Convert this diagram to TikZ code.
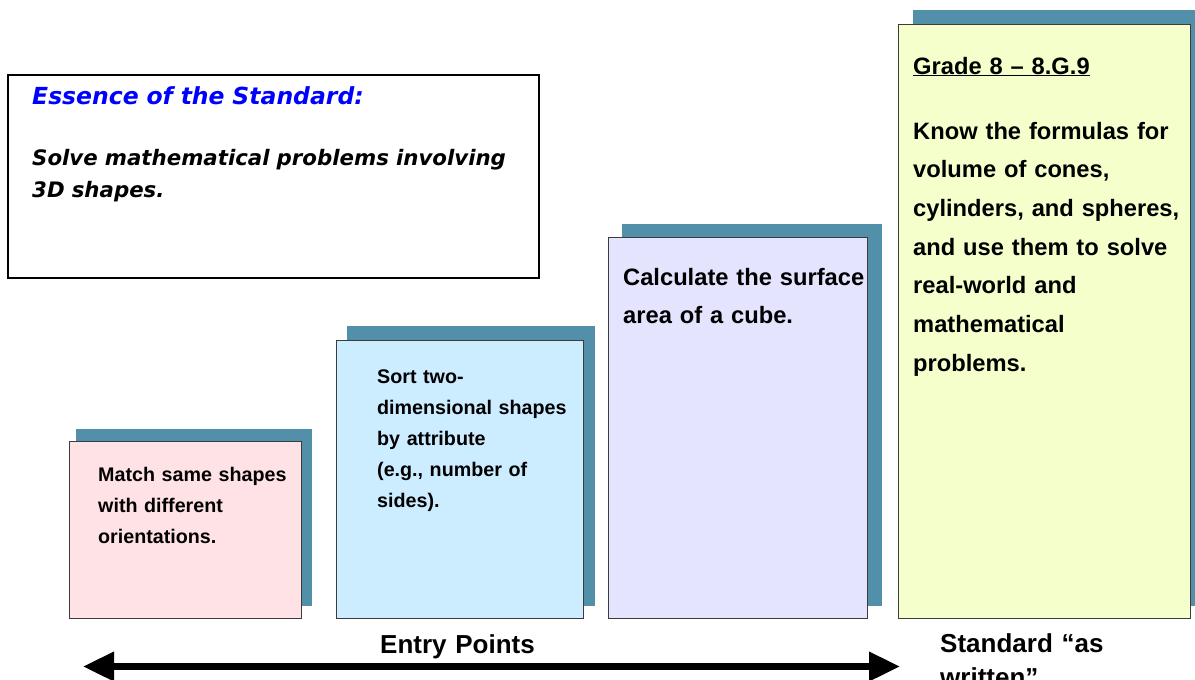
\documentclass[tikz,border=0pt]{standalone}
\usepackage{fontspec}
\setmainfont{Liberation Sans}
\newfontfamily\essfont{DejaVu Sans}
\usetikzlibrary{arrows.meta}
\definecolor{shadowc}{RGB}{82,143,168}
\definecolor{pinkc}{RGB}{255,226,230}
\definecolor{bluec}{RGB}{204,236,255}
\definecolor{lavc}{RGB}{228,228,255}
\definecolor{yelc}{RGB}{245,255,204}
\definecolor{edgec}{RGB}{60,60,60}
\definecolor{essblue}{RGB}{0,0,255}
\begin{document}
\begin{tikzpicture}[x=1pt,y=-1pt,
  shadowbox/.style={fill=shadowc, draw=none},
  frontbox/.style={draw=edgec, line width=1pt},
  smalltext/.style={anchor=base west, inner sep=0pt, align=left, text width=#1,
    font=\bfseries\fontsize{19.7}{31}\selectfont},
  bigtext/.style={anchor=base west, inner sep=0pt, align=left, text width=#1,
    font=\bfseries\fontsize{23.7}{38.7}\selectfont},
  esshead/.style={anchor=base west, inner sep=0pt, align=left, text width=520pt,
    font=\essfont\bfseries\itshape\fontsize{23.5}{32}\selectfont},
  essbody/.style={anchor=base west, inner sep=0pt, align=left, text width=520pt,
    font=\essfont\bfseries\itshape\fontsize{21.3}{32}\selectfont},
  labeltext/.style={anchor=base west, inner sep=0pt, align=left, text width=#1,
    font=\bfseries\fontsize{26}{34}\selectfont},
  bigarrow/.style={line width=7pt, {Triangle[length=31pt,width=28pt]}-{Triangle[length=31pt,width=28pt]}}]
\useasboundingbox (0,0) rectangle (1195,680);
\clip (0,0) rectangle (1195,680);
\fill[white] (0,0) rectangle (1195,680);

% essence box
\draw[line width=1.2pt, fill=white] (8,75) rectangle (539,278);
\node[esshead, text=essblue] (esshd) at (32,104) {Essence of the Standard:};
\node[essbody] (essbd) at (32,165) {Solve mathematical problems involving\\3D shapes.};

% box 1
\fill[shadowbox] (76,429) rectangle (312,606);
\draw[frontbox, fill=pinkc] (69,441) rectangle (301,618);
\node[smalltext=200pt] (t1) at (98,481) {Match same shapes\\with different\\orientations.};

% box 2
\fill[shadowbox] (347,326) rectangle (595,606);
\draw[frontbox, fill=bluec] (336,340) rectangle (583,618);
\node[smalltext=200pt] (t2) at (377,383) {Sort two-\\dimensional shapes\\by attribute\\(e.g., number of\\sides).};

% box 3
\fill[shadowbox] (622,224) rectangle (882,606);
\draw[frontbox, fill=lavc] (608,237) rectangle (867,618);
\node[bigtext=250pt] (t3) at (623,285) {Calculate the surface\\area of a cube.};

% box 4
\fill[shadowbox] (913,10) rectangle (1200,606);
\draw[frontbox, fill=yelc] (898,24) rectangle (1190,618);
\node[bigtext=280pt] (grade) at (913,74) {\underline{Grade 8 -- 8.G.9}};
\node[bigtext=280pt] (t4) at (913,139) {Know the formulas for\\volume of cones,\\cylinders, and spheres,\\and use them to solve\\real-world and\\mathematical\\problems.};

% arrow and labels
\coordinate (aL) at (83,666.5);
\coordinate (aR) at (900,666.5);
\draw[bigarrow] (aL) -- (aR);
\node[labeltext=200pt] (entry) at (380,653) {Entry Points};
\node[labeltext=260pt] (std) at (940,652) {Standard “as\\written”};
\end{tikzpicture}
\end{document}
